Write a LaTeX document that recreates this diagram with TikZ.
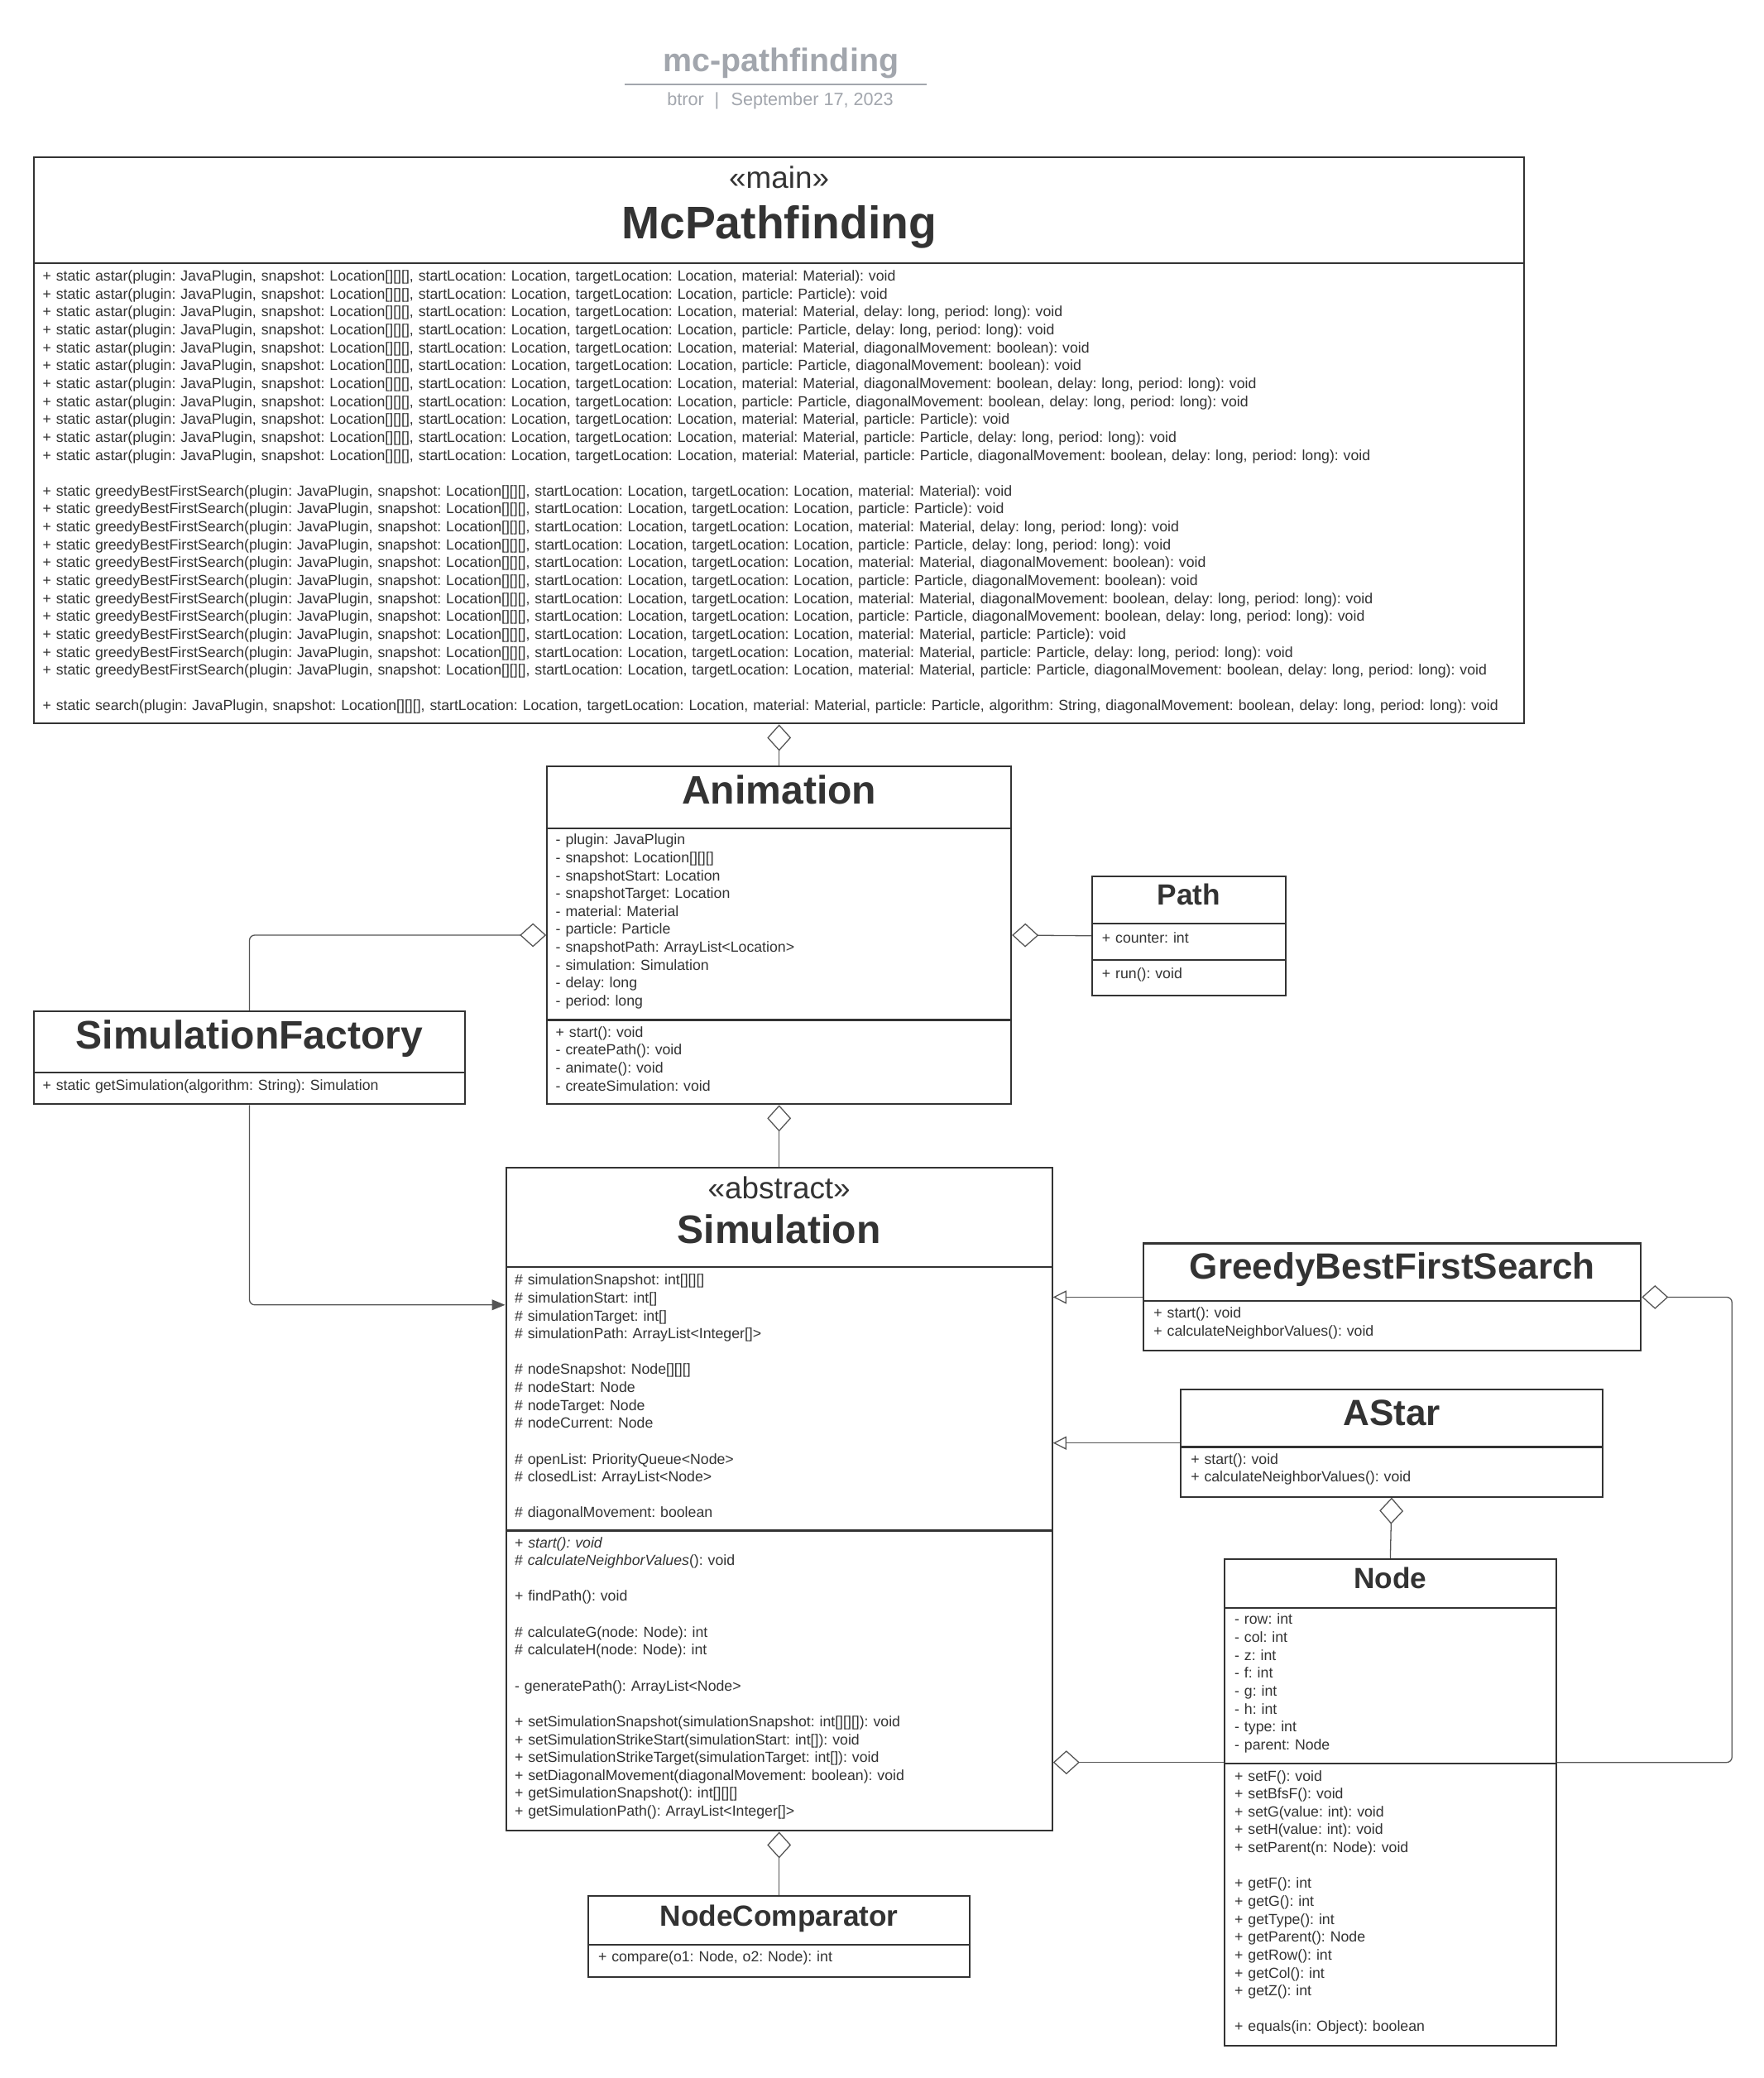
\documentclass[tikz,border=0pt]{standalone}
\usepackage{fontspec}
\setmainfont{Liberation Sans}
\usepackage{xcolor}
\usepackage{tikz}
\usetikzlibrary{arrows.meta}
\definecolor{ink}{HTML}{333333}
\definecolor{wire}{HTML}{555555}
\definecolor{faded}{HTML}{A2A6AD}
\tikzset{box/.style={draw=ink,line width=1.3pt,anchor=north west,inner sep=0pt},
        cname/.style={anchor=base,text=ink,font=\bfseries\fontsize{#1}{#1}\selectfont},
        ster/.style={anchor=base,text=ink,font=\fontsize{23}{23}\selectfont},
        member/.style={anchor=base west,inner sep=0pt,text width=#1,align=left,text=ink,font=\fontsize{11.05}{13.5}\selectfont\frenchspacing},
        agg/.style={draw=wire,line width=0.8pt,{Diamond[open,length=20pt,width=18pt]}-},
        inherits/.style={draw=wire,line width=0.8pt,-{Triangle[open,length=10pt,width=10pt]}},
        uses/.style={draw=wire,line width=0.8pt,-{Triangle[length=10pt,width=8pt]}}}

\begin{document}
\begin{tikzpicture}[x=1pt,y=-1pt]
        \fill[white] (0,0) rectangle (1330,1567);
        \useasboundingbox (0,0) rectangle (1330,1567);

        % heading
        \node[anchor=base,text=faded,font=\bfseries\fontsize{24.6}{24.6}\selectfont] (title) at (589,54) {mc-pathfinding};
        \draw[faded,line width=1pt] (471,63.5) -- (699,63.5);
        \node[anchor=base,text=faded,font=\fontsize{13.5}{13.5}\selectfont] (byline) at (588.5,79.5) {btror\hspace{8pt}|\hspace{9pt}September 17, 2023};

        % McPathfinding
        \node[box,minimum width=1124,minimum height=427] (main) at (25,118) {};
        \node[box,minimum width=1124,minimum height=347] (main-ops) at (25,198) {};
        \node[ster] (main-st) at ([shift={(0,24)}]main.north) {«main»};
        \node[cname=34.5] (main-name) at ([shift={(0,61.8)}]main.north) {McPathfinding};
        \node[member=1250] (main-ops-t) at ([shift={(7,14)}]main-ops.north west) {+ static astar(plugin: JavaPlugin, snapshot: Location[][][], startLocation: Location, targetLocation: Location, material: Material): void\\
+ static astar(plugin: JavaPlugin, snapshot: Location[][][], startLocation: Location, targetLocation: Location, particle: Particle): void\\
+ static astar(plugin: JavaPlugin, snapshot: Location[][][], startLocation: Location, targetLocation: Location, material: Material, delay: long, period: long): void\\
+ static astar(plugin: JavaPlugin, snapshot: Location[][][], startLocation: Location, targetLocation: Location, particle: Particle, delay: long, period: long): void\\
+ static astar(plugin: JavaPlugin, snapshot: Location[][][], startLocation: Location, targetLocation: Location, material: Material, diagonalMovement: boolean): void\\
+ static astar(plugin: JavaPlugin, snapshot: Location[][][], startLocation: Location, targetLocation: Location, particle: Particle, diagonalMovement: boolean): void\\
+ static astar(plugin: JavaPlugin, snapshot: Location[][][], startLocation: Location, targetLocation: Location, material: Material, diagonalMovement: boolean, delay: long, period: long): void\\
+ static astar(plugin: JavaPlugin, snapshot: Location[][][], startLocation: Location, targetLocation: Location, particle: Particle, diagonalMovement: boolean, delay: long, period: long): void\\
+ static astar(plugin: JavaPlugin, snapshot: Location[][][], startLocation: Location, targetLocation: Location, material: Material, particle: Particle): void\\
+ static astar(plugin: JavaPlugin, snapshot: Location[][][], startLocation: Location, targetLocation: Location, material: Material, particle: Particle, delay: long, period: long): void\\
+ static astar(plugin: JavaPlugin, snapshot: Location[][][], startLocation: Location, targetLocation: Location, material: Material, particle: Particle, diagonalMovement: boolean, delay: long, period: long): void\\[13.5pt]
+ static greedyBestFirstSearch(plugin: JavaPlugin, snapshot: Location[][][], startLocation: Location, targetLocation: Location, material: Material): void\\
+ static greedyBestFirstSearch(plugin: JavaPlugin, snapshot: Location[][][], startLocation: Location, targetLocation: Location, particle: Particle): void\\
+ static greedyBestFirstSearch(plugin: JavaPlugin, snapshot: Location[][][], startLocation: Location, targetLocation: Location, material: Material, delay: long, period: long): void\\
+ static greedyBestFirstSearch(plugin: JavaPlugin, snapshot: Location[][][], startLocation: Location, targetLocation: Location, particle: Particle, delay: long, period: long): void\\
+ static greedyBestFirstSearch(plugin: JavaPlugin, snapshot: Location[][][], startLocation: Location, targetLocation: Location, material: Material, diagonalMovement: boolean): void\\
+ static greedyBestFirstSearch(plugin: JavaPlugin, snapshot: Location[][][], startLocation: Location, targetLocation: Location, particle: Particle, diagonalMovement: boolean): void\\
+ static greedyBestFirstSearch(plugin: JavaPlugin, snapshot: Location[][][], startLocation: Location, targetLocation: Location, material: Material, diagonalMovement: boolean, delay: long, period: long): void\\
+ static greedyBestFirstSearch(plugin: JavaPlugin, snapshot: Location[][][], startLocation: Location, targetLocation: Location, particle: Particle, diagonalMovement: boolean, delay: long, period: long): void\\
+ static greedyBestFirstSearch(plugin: JavaPlugin, snapshot: Location[][][], startLocation: Location, targetLocation: Location, material: Material, particle: Particle): void\\
+ static greedyBestFirstSearch(plugin: JavaPlugin, snapshot: Location[][][], startLocation: Location, targetLocation: Location, material: Material, particle: Particle, delay: long, period: long): void\\
+ static greedyBestFirstSearch(plugin: JavaPlugin, snapshot: Location[][][], startLocation: Location, targetLocation: Location, material: Material, particle: Particle, diagonalMovement: boolean, delay: long, period: long): void\\[13.5pt]
+ static search(plugin: JavaPlugin, snapshot: Location[][][], startLocation: Location, targetLocation: Location, material: Material, particle: Particle, algorithm: String, diagonalMovement: boolean, delay: long, period: long): void};

        % Animation
        \node[box,minimum width=350,minimum height=255] (anim) at (412,577) {};
        \node[box,minimum width=350,minimum height=144.5] (anim-attr) at (412,624) {};
        \node[box,minimum width=350,minimum height=63.5] (anim-ops) at (412,768.5) {};
        \node[cname=30] (anim-name) at ([shift={(0,29.5)}]anim.north) {Animation};
        \node[member=336] (anim-attr-t) at ([shift={(7,13)}]anim-attr.north west) {- plugin: JavaPlugin\\
- snapshot: Location[][][]\\
- snapshotStart: Location\\
- snapshotTarget: Location\\
- material: Material\\
- particle: Particle\\
- snapshotPath: ArrayList<Location>\\
- simulation: Simulation\\
- delay: long\\
- period: long};
        \node[member=336] (anim-ops-t) at ([shift={(7,13.5)}]anim-ops.north west) {+ start(): void\\
- createPath(): void\\
- animate(): void\\
- createSimulation: void};

        % Path
        \node[box,minimum width=146,minimum height=90] (path) at (823,660) {};
        \node[box,minimum width=146,minimum height=27] (path-attr) at (823,696) {};
        \node[box,minimum width=146,minimum height=27] (path-ops) at (823,723) {};
        \node[cname=22] (path-name) at ([shift={(0,22.5)}]path.north) {Path};
        \node[member=132] (path-attr-t) at ([shift={(8,15)}]path-attr.north west) {+ counter: int};
        \node[member=132] (path-ops-t) at ([shift={(8,15)}]path-ops.north west) {+ run(): void};

        % SimulationFactory
        \node[box,minimum width=325,minimum height=70] (sf) at (25,762) {};
        \node[box,minimum width=325,minimum height=24] (sf-ops) at (25,808) {};
        \node[cname=30] (sf-name) at ([shift={(0,28.7)}]sf.north) {SimulationFactory};
        \node[member=311] (sf-ops-t) at ([shift={(7,14)}]sf-ops.north west) {+ static getSimulation(algorithm: String): Simulation};

        % Simulation
        \node[box,minimum width=412,minimum height=500] (sim) at (381,880) {};
        \node[box,minimum width=412,minimum height=198.5] (sim-attr) at (381,955) {};
        \node[box,minimum width=412,minimum height=226.5] (sim-ops) at (381,1153.5) {};
        \node[ster] (sim-st) at ([shift={(0,24)}]sim.north) {«abstract»};
        \node[cname=30] (sim-name) at ([shift={(0,57.8)}]sim.north) {Simulation};
        \node[member=398] (sim-attr-t) at ([shift={(7,14)}]sim-attr.north west) {\# simulationSnapshot: int[][][]\\
\# simulationStart: int[]\\
\# simulationTarget: int[]\\
\# simulationPath: ArrayList<Integer[]>\\[13.5pt]
\# nodeSnapshot: Node[][][]\\
\# nodeStart: Node\\
\# nodeTarget: Node\\
\# nodeCurrent: Node\\[13.5pt]
\# openList: PriorityQueue<Node>\\
\# closedList: ArrayList<Node>\\[13.5pt]
\# diagonalMovement: boolean};
        \node[member=398] (sim-ops-t) at ([shift={(7,13.5)}]sim-ops.north west) {+ \textit{start(): void}\\
\# \textit{calculateNeighborValues}(): void\\[13.5pt]
+ findPath(): void\\[13.5pt]
\# calculateG(node: Node): int\\
\# calculateH(node: Node): int\\[13.5pt]
- generatePath(): ArrayList<Node>\\[13.5pt]
+ setSimulationSnapshot(simulationSnapshot: int[][][]): void\\
+ setSimulationStrikeStart(simulationStart: int[]): void\\
+ setSimulationStrikeTarget(simulationTarget: int[]): void\\
+ setDiagonalMovement(diagonalMovement: boolean): void\\
+ getSimulationSnapshot(): int[][][]\\
+ getSimulationPath(): ArrayList<Integer[]>};

        % GreedyBestFirstSearch
        \node[box,minimum width=375,minimum height=81] (gbfs) at (862,937) {};
        \node[box,minimum width=375,minimum height=37.5] (gbfs-ops) at (862,980.5) {};
        \node[cname=27.5] (gbfs-name) at ([shift={(0,27.4)}]gbfs.north) {GreedyBestFirstSearch};
        \node[member=361] (gbfs-ops-t) at ([shift={(8,13.5)}]gbfs-ops.north west) {+ start(): void\\
+ calculateNeighborValues(): void};

        % AStar
        \node[box,minimum width=318,minimum height=81] (astar) at (890,1047) {};
        \node[box,minimum width=318,minimum height=37.5] (astar-ops) at (890,1090.5) {};
        \node[cname=27.5] (astar-name) at ([shift={(0,27.7)}]astar.north) {AStar};
        \node[member=304] (astar-ops-t) at ([shift={(8,13.5)}]astar-ops.north west) {+ start(): void\\
+ calculateNeighborValues(): void};

        % Node
        \node[box,minimum width=250,minimum height=367] (node) at (923,1175) {};
        \node[box,minimum width=250,minimum height=117] (node-attr) at (923,1212) {};
        \node[box,minimum width=250,minimum height=213] (node-ops) at (923,1329) {};
        \node[cname=22] (node-name) at ([shift={(0,22.6)}]node.north) {Node};
        \node[member=236] (node-attr-t) at ([shift={(8,13)}]node-attr.north west) {- row: int\\
- col: int\\
- z: int\\
- f: int\\
- g: int\\
- h: int\\
- type: int\\
- parent: Node};
        \node[member=236] (node-ops-t) at ([shift={(8,14)}]node-ops.north west) {+ setF(): void\\
+ setBfsF(): void\\
+ setG(value: int): void\\
+ setH(value: int): void\\
+ setParent(n: Node): void\\[13.5pt]
+ getF(): int\\
+ getG(): int\\
+ getType(): int\\
+ getParent(): Node\\
+ getRow(): int\\
+ getCol(): int\\
+ getZ(): int\\[13.5pt]
+ equals(in: Object): boolean};

        % NodeComparator
        \node[box,minimum width=288,minimum height=61] (nc) at (443,1429) {};
        \node[box,minimum width=288,minimum height=24] (nc-ops) at (443,1466) {};
        \node[cname=22] (nc-name) at ([shift={(0,23.5)}]nc.north) {NodeComparator};
        \node[member=274] (nc-ops-t) at ([shift={(8,13.5)}]nc-ops.north west) {+ compare(o1: Node, o2: Node): int};

        % relations
        \draw [agg] (main.south) to (anim.north);
        \draw [agg,rounded corners=4pt] (anim.west) -| (sf.north);
        \draw [agg] (anim.east) to (path.west);
        \draw [agg] (anim.south) to (sim.north);
        \draw [uses,rounded corners=4pt] (sf.south) |- ([shift={(0,104)}]sim.north west);
        \draw [inherits] (gbfs.west) to (sim.east |- gbfs.west);
        \draw [inherits] (astar.west) to (sim.east |- astar.west);
        \draw [agg] (astar.south) to (node.north);
        \draw [agg] (sim.east |- node-ops.north west) to (node-ops.north west);
        \draw [agg,rounded corners=4pt] (gbfs.east) -- ++(68,0) |- (node-ops.north east);
        \draw [agg] (sim.south) to (nc.north);
\end{tikzpicture}
\end{document}
